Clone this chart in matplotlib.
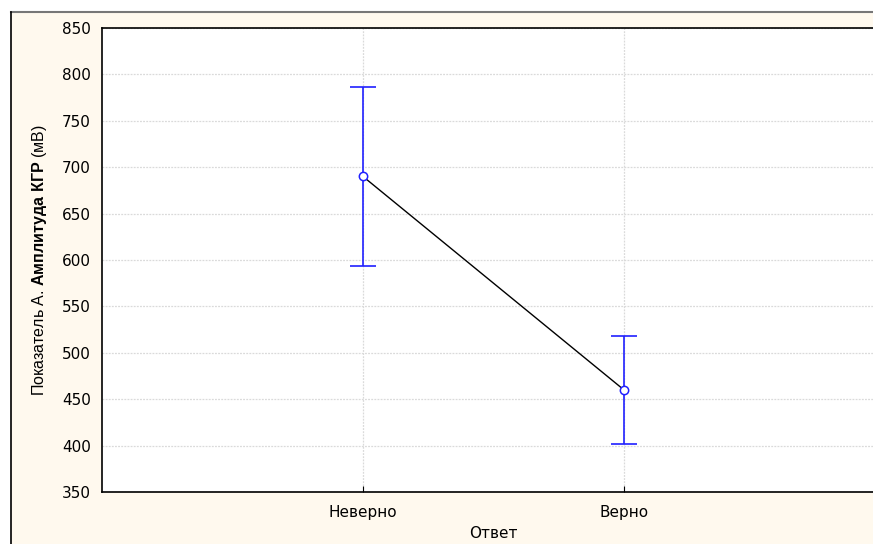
import matplotlib
matplotlib.use("Agg")
import matplotlib.pyplot as plt
from matplotlib.patches import Rectangle

categories = ["Неверно", "Верно"]
means = [690, 460]
errors = [96, 58]
yticks = [350, 400, 450, 500, 550, 600, 650, 700, 750, 800, 850]

plt.rcParams['font.family'] = ['Liberation Sans', 'DejaVu Sans']
plt.rcParams['mathtext.fontset'] = 'custom'
plt.rcParams['mathtext.rm'] = 'Liberation Sans'
plt.rcParams['mathtext.bf'] = 'Liberation Sans:bold'

W, H = 873, 544
fig = plt.figure(figsize=(W/100, H/100), dpi=100, facecolor='white')

# cream panel
fig.patches.append(Rectangle((11/W, -0.01), 1.0, 1 - 12/H + 0.01, transform=fig.transFigure,
                             facecolor='#FFF9EE', edgecolor='none', zorder=-10))
fig.lines.append(plt.Line2D([11/W, 1], [1 - 12/H, 1 - 12/H], transform=fig.transFigure,
                            color='#777777', lw=1.5, zorder=-9))
fig.lines.append(plt.Line2D([11/W, 11/W], [0, 1 - 12/H], transform=fig.transFigure,
                            color='black', lw=1.2, zorder=-9))

left, right = 102/W, 885/W
bottom, top = 1 - 492/H, 1 - 28/H
ax = fig.add_axes([left, bottom, right - left, top - bottom])
ax.set_zorder(1)
ax.set_facecolor('white')

x = list(range(1, len(categories) + 1))
ax.plot(x, means, color='black', lw=1, zorder=3)
ax.errorbar(x, means, yerr=errors, fmt='none', ecolor='#2020ff', elinewidth=1.2,
            capsize=9.6, capthick=1.2, zorder=4)
ax.plot(x, means, 'o', ms=6, mfc='white', mec='#2020ff', mew=1.1, zorder=5)

ax.set_xlim(0, len(categories) + 1)
ax.set_ylim(350, 850)
ax.set_yticks(yticks)
ax.set_xticks(x)
ax.set_xticklabels(categories)
ax.tick_params(axis='y', length=0, labelsize=11, pad=8)
ax.tick_params(axis='x', direction='in', length=4, labelsize=11, pad=9)
for lab in ax.get_xticklabels() + ax.get_yticklabels():
    lab.set_family(['DejaVu Sans'])
ax.grid(True, color='#dadada', linestyle=(0, (1.5, 1)), lw=0.9)
ax.set_axisbelow(True)
for s in ax.spines.values():
    s.set_color('black')
    s.set_linewidth(1.2)

ax.set_ylabel(r"Показатель А. $\mathbf{Амплитуда\ КГР}$ (мВ)", fontsize=11.5, labelpad=9)
ax.set_xlabel("Ответ", fontsize=11, labelpad=5, family=['DejaVu Sans'])

fig.savefig("out.png", dpi=100, facecolor='white')
